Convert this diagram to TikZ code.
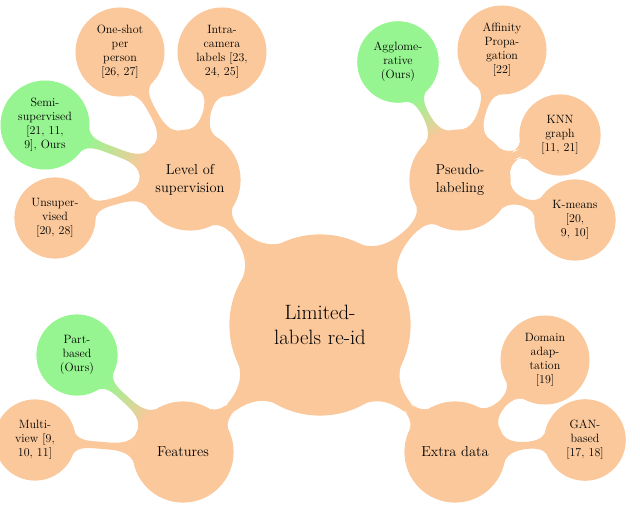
\documentclass[tikz,border=0pt]{standalone}
\usetikzlibrary{mindmap,backgrounds}
\definecolor{org}{RGB}{250,200,155}
\definecolor{grn}{RGB}{150,245,145}
\begin{document}
\begin{tikzpicture}[x=1pt,y=-1pt,mindmap,
  every concept/.style={circle,align=center,inner sep=0pt},
  big/.style={concept,concept color=org,minimum size=180pt,text width=120pt,font=\huge},
  mid/.style={concept,concept color=org,minimum size=100pt,text width=90pt,font=\Large},
  leaf/.style={concept,concept color=org,minimum size=78pt,text width=70pt,font=\large},
  gleaf/.style={leaf,concept color=grn}]
\useasboundingbox (0,0) rectangle (640,505);
\node[big] (c) at (320,325) {Limited-\\labels re-id};
\node[mid] (ls) at (190,180) {Level of\\supervision};
\node[mid] (pl) at (460,180) {Pseudo-\\labeling};
\node[mid] (fe) at (183,452) {Features};
\node[mid] (ed) at (455,452) {Extra data};
\node[leaf] (os) at (120,52) {One-shot\\per\\person\\{[26, 27]}};
\node[leaf] (ic) at (222,52) {Intra-\\camera\\labels [23,\\24, 25]};
\node[gleaf] (ss) at (45,125) {Semi-\\supervised\\{[21, 11,}\\9], Ours};
\node[leaf] (us) at (55,218) {Unsuper-\\vised\\{[20, 28]}};
\node[gleaf] (ag) at (398,62) {Agglome-\\rative\\(Ours)};
\node[leaf] (ap) at (502,50) {Affinity\\Propa-\\gation\\{[22]}};
\node[leaf] (kn) at (560,135) {KNN\\graph\\{[11, 21]}};
\node[leaf] (km) at (575,220) {K-means\\{[20,}\\9, 10]};
\node[gleaf] (pb) at (77,355) {Part-\\based\\(Ours)};
\node[leaf] (mv) at (35,440) {Multi-\\view [9,\\10, 11]};
\node[leaf] (da) at (545,360) {Domain\\adap-\\tation\\{[19]}};
\node[leaf] (gb) at (585,440) {GAN-\\based\\{[17, 18]}};
\begin{pgfonlayer}{background}
\foreach \a/\b in {c/ls,c/pl,c/fe,c/ed,ls/os,ls/ic,ls/us,pl/ap,pl/kn,pl/km,fe/mv,ed/da,ed/gb}
  \path (\a) to[circle connection bar switch color=from (org) to (org)] (\b);
\foreach \a/\b in {ls/ss,pl/ag,fe/pb}
  \path (\a) to[circle connection bar switch color=from (org) to (grn)] (\b);
\end{pgfonlayer}
\end{tikzpicture}
\end{document}
